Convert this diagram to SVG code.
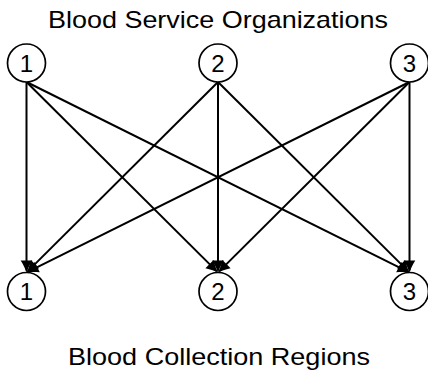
<svg xmlns="http://www.w3.org/2000/svg" width="428" height="371" viewBox="0 0 428 371">
<style>
.lbl{font-family:"Liberation Sans","DejaVu Sans",sans-serif;font-size:24px;fill:#000;text-anchor:middle}
.num{font-family:"Liberation Sans","DejaVu Sans",sans-serif;font-size:24px;fill:#000;text-anchor:middle}
.node circle{fill:#fff;stroke:#000;stroke-width:1.7}
.edge{stroke:#000;stroke-width:2;fill:none;marker-end:url(#arr)}
</style>
<defs>
<marker id="arr" markerUnits="userSpaceOnUse" viewBox="-14 -7 16 14" refX="-2" refY="0" markerWidth="16" markerHeight="14" orient="auto">
<path d="M0,0 C-3,-1 -7.5,-3 -12,-5.8 L-12,5.8 C-7.5,3 -3,1 0,0 z" fill="#000"/>
</marker>
</defs>
<text class="lbl" x="218" y="28" textLength="340" lengthAdjust="spacingAndGlyphs">Blood Service Organizations</text>
<text class="lbl" x="219" y="365" textLength="302" lengthAdjust="spacingAndGlyphs">Blood Collection Regions</text>
<g id="edges">
<line class="edge" x1="26.5" y1="82" x2="26.5" y2="270.5"/>
<line class="edge" x1="26.5" y1="82" x2="216.58" y2="271.09"/>
<line class="edge" x1="26.5" y1="82" x2="407.71" y2="271.61"/>
<line class="edge" x1="218" y1="82" x2="27.92" y2="271.09"/>
<line class="edge" x1="218" y1="82" x2="218" y2="270.5"/>
<line class="edge" x1="218" y1="82" x2="408.08" y2="271.09"/>
<line class="edge" x1="409.5" y1="82" x2="28.29" y2="271.61"/>
<line class="edge" x1="409.5" y1="82" x2="219.42" y2="271.09"/>
<line class="edge" x1="409.5" y1="82" x2="409.5" y2="270.5"/>
</g>
<g id="s1" class="node"><circle cx="26.5" cy="63" r="19"/><text class="num" x="26.5" y="71.5">1</text></g>
<g id="s2" class="node"><circle cx="218" cy="63" r="19"/><text class="num" x="218" y="71.5">2</text></g>
<g id="s3" class="node"><circle cx="409.5" cy="63" r="19"/><text class="num" x="409.5" y="71.5">3</text></g>
<g id="r1" class="node"><circle cx="26.5" cy="291.5" r="19"/><text class="num" x="26.5" y="300">1</text></g>
<g id="r2" class="node"><circle cx="218" cy="291.5" r="19"/><text class="num" x="218" y="300">2</text></g>
<g id="r3" class="node"><circle cx="409.5" cy="291.5" r="19"/><text class="num" x="409.5" y="300">3</text></g>
</svg>
